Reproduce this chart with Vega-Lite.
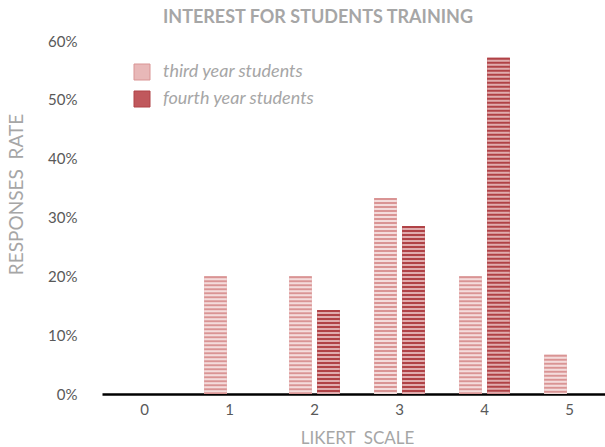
{
  "$schema": "https://vega.github.io/schema/vega-lite/v6.json",
  "autosize": {"type": "none"},
  "width": 510,
  "height": 353,
  "padding": {"left": 102, "top": 41, "right": 0, "bottom": 53},
  "background": "#ffffff",
  "config": {
    "font": "Lato",
    "view": {"stroke": null}
  },
  "title": {
    "text": "INTEREST FOR STUDENTS TRAINING",
    "font": "Lato",
    "fontSize": 18,
    "fontWeight": "bold",
    "color": "#A6A6A6",
    "anchor": "middle",
    "dx": -39,
    "offset": 7
  },
  "data": {
    "values": [
      {"score": "0", "group": "third year students", "rate": 0},
      {"score": "0", "group": "fourth year students", "rate": 0},
      {"score": "1", "group": "third year students", "rate": 0.2},
      {"score": "1", "group": "fourth year students", "rate": 0},
      {"score": "2", "group": "third year students", "rate": 0.2},
      {"score": "2", "group": "fourth year students", "rate": 0.1429},
      {"score": "3", "group": "third year students", "rate": 0.3333},
      {"score": "3", "group": "fourth year students", "rate": 0.2857},
      {"score": "4", "group": "third year students", "rate": 0.2},
      {"score": "4", "group": "fourth year students", "rate": 0.5714},
      {"score": "5", "group": "third year students", "rate": 0.0667},
      {"score": "5", "group": "fourth year students", "rate": 0}
    ]
  },
  "encoding": {
    "x": {
      "field": "score",
      "type": "ordinal",
      "scale": {"paddingInner": 0.4, "paddingOuter": 0.2},
      "axis": {
        "title": "LIKERT\u00a0\u00a0SCALE",
        "titleFont": "Lato",
        "titleFontSize": 17,
        "titleFontWeight": "normal",
        "titleColor": "#A6A6A6",
        "titlePadding": 13,
        "labelAngle": 0,
        "labelFont": "Lato",
        "labelFontSize": 15,
        "labelColor": "#595959",
        "labelPadding": 8,
        "ticks": false,
        "domainColor": "#000000",
        "domainWidth": 2.5,
        "grid": false
      }
    },
    "xOffset": {
      "field": "group",
      "type": "nominal",
      "sort": ["third year students", "fourth year students"],
      "scale": {"paddingInner": 0.18, "paddingOuter": 0}
    },
    "y": {
      "field": "rate",
      "type": "quantitative",
      "scale": {"domain": [0, 0.6]},
      "axis": {
        "format": ".0%",
        "values": [0, 0.1, 0.2, 0.3, 0.4, 0.5, 0.6],
        "title": "RESPONSES\u00a0\u00a0RATE",
        "titleFont": "Lato",
        "titleFontSize": 19,
        "titleFontWeight": "normal",
        "titleColor": "#A6A6A6",
        "titleX": -76,
        "titleY": 153,
        "labelFont": "Lato",
        "labelFontSize": 15,
        "labelColor": "#595959",
        "labelPadding": 25,
        "ticks": false,
        "domain": false,
        "grid": false
      }
    }
  },
  "layer": [
    {
      "mark": {"type": "bar", "strokeWidth": 0},
      "encoding": {
        "color": {
          "field": "group",
          "type": "nominal",
          "sort": ["third year students", "fourth year students"],
          "scale": {
            "domain": ["third year students", "fourth year students"],
            "range": ["#e8b8b8", "#c0585c"]
          },
          "legend": {
            "title": null,
            "orient": "none",
            "legendX": 31,
            "legendY": 22,
            "symbolType": "square",
            "symbolSize": 256,
            "symbolStrokeColor": "#a6a6a6",
            "symbolStrokeWidth": 1,
            "symbolOpacity": 1,
            "labelFont": "Lato",
            "labelFontSize": 18,
            "labelFontStyle": "italic",
            "labelColor": "#A6A6A6",
            "labelOffset": 12,
            "rowPadding": 7
          }
        }
      }
    },
    {
      "mark": {"type": "rule", "strokeWidth": 22.5, "strokeDash": [2, 2], "strokeCap": "butt"},
      "encoding": {
        "y2": {"datum": 0},
        "stroke": {
          "field": "group",
          "type": "nominal",
          "sort": ["third year students", "fourth year students"],
          "scale": {
            "domain": ["third year students", "fourth year students"],
            "range": ["#d99494", "#b04246"]
          },
          "legend": null
        }
      }
    },
    {
      "mark": {"type": "rule", "strokeWidth": 22.5, "strokeDash": [2, 2], "strokeDashOffset": 2, "strokeCap": "butt", "color": "#ffffff", "opacity": 0.5},
      "encoding": {
        "y2": {"datum": 0}
      }
    }
  ]
}
